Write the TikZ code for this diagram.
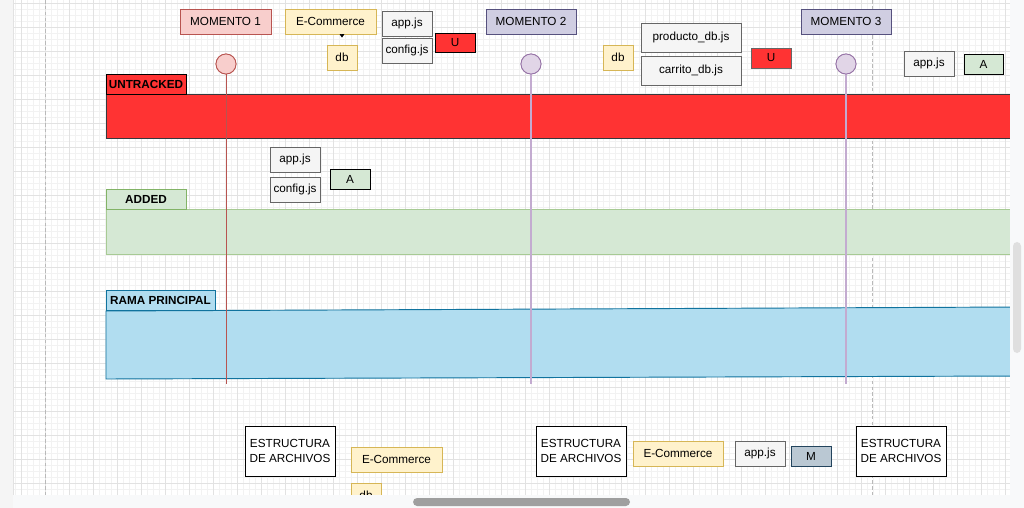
\documentclass[tikz,border=0pt]{standalone}
\usepackage{fontspec}
\setmainfont{Liberation Sans}
\usetikzlibrary{arrows.meta}
\definecolor{pinkfill}{HTML}{F8CECC}
\definecolor{pinkline}{HTML}{B85450}
\definecolor{yelfill}{HTML}{FFF2CC}
\definecolor{yelline}{HTML}{D6B656}
\definecolor{grayfill}{HTML}{F5F5F5}
\definecolor{grayline}{HTML}{666666}
\definecolor{redfill}{HTML}{FF3333}
\definecolor{redline}{HTML}{36393D}
\definecolor{purfill}{HTML}{D0CEE2}
\definecolor{purline}{HTML}{56517E}
\definecolor{lilfill}{HTML}{E1D5E7}
\definecolor{lilline}{HTML}{9673A6}
\definecolor{lilrule}{HTML}{C3ABD0}
\definecolor{greenfill}{HTML}{D5E8D4}
\definecolor{greenline}{HTML}{82B366}
\definecolor{bluefill}{HTML}{B1DDF0}
\definecolor{blueline}{HTML}{10739E}
\definecolor{modfill}{HTML}{BAC8D3}
\definecolor{modline}{HTML}{23445D}
\definecolor{gridmaj}{HTML}{E2E2E2}
\definecolor{gridmin}{HTML}{F2F2F2}
\definecolor{uibar}{HTML}{F8F9FA}

\begin{document}
\begin{tikzpicture}[
    x=0.03cm, y=-0.03cm,
    every node/.style={font=\fontsize{10}{12.5}\selectfont, inner sep=0pt},
    boxsize/.style 2 args={minimum width=#1*0.03cm, minimum height=#2*0.03cm},
    basebox/.style={draw, rectangle, line width=0.7pt},
    momentpink/.style={basebox, fill=pinkfill, draw=pinkline},
    momentpur/.style={basebox, fill=purfill, draw=purline},
    folder/.style={basebox, fill=yelfill, draw=yelline},
    file/.style={basebox, fill=grayfill, draw=grayline},
    untr/.style={basebox, fill=redfill, draw=black},
    addd/.style={basebox, fill=greenfill, draw=black},
    modf/.style={basebox, fill=modfill, draw=modline},
    estruct/.style={basebox, fill=white, draw=black, align=center, boxsize={90}{50}},
    lanelabel/.style={basebox, font=\fontsize{10}{12}\bfseries},
    dot/.style={circle, line width=0.7pt, minimum size=0.6cm},
    gridminor/.style={gridmin, line width=0.4pt},
    gridmajor/.style={gridmaj, line width=0.5pt}
    ]
    \useasboundingbox (0,0) rectangle (1024,508);
    \fill[white] (0,0) rectangle (1024,508);
    \foreach \gx in {15.3,21.3,...,1010} \draw[gridminor] (\gx,0) -- (\gx,495);
    \foreach \gy in {3.3,9.3,...,495} \draw[gridminor] (13,\gy) -- (1010,\gy);
    \foreach \gx in {21.3,45.3,...,1010} \draw[gridmajor] (\gx,0) -- (\gx,495);
    \foreach \gy in {3.3,27.3,...,495} \draw[gridmajor] (13,\gy) -- (1010,\gy);
    \draw[gray!55, dashed, dash pattern=on 3pt off 2pt] (45,0) -- (45,495);
    \draw[gray!55, dashed, dash pattern=on 3pt off 2pt] (872,0) -- (872,495);

    \filldraw[fill=redfill, draw=redline, line width=0.8pt] (106,94) rectangle (1020,138);
    \filldraw[fill=greenfill, draw=greenline!70, line width=0.8pt] (106,209) rectangle (1020,254);
    \filldraw[fill=bluefill, draw=blueline, line width=0.8pt] (106,311) -- (1020,307) -- (1020,376) -- (106,379) -- cycle;
    \node[lanelabel, fill=redfill, draw=black, boxsize={80}{20}] (untracked) at (146,84) {UNTRACKED};
    \node[lanelabel, fill=greenfill, draw=greenline, boxsize={80}{20}] (added) at (146,199) {ADDED};
    \node[lanelabel, fill=bluefill, draw=blueline, boxsize={109}{20}] (rama) at (160.5,300) {RAMA PRINCIPAL};

    \node[dot, fill=pinkfill, draw=pinkline] (c1) at (226,64) {};
    \node[dot, fill=lilfill, draw=lilline] (c2) at (531,64) {};
    \node[dot, fill=lilfill, draw=lilline] (c3) at (846,64) {};
    \coordinate (c1end) at (226,384);
    \coordinate (c2end) at (531,384);
    \coordinate (c3end) at (846,384);
    \draw[pinkline, line width=0.6pt] (c1) -- (c1end);
    \draw[lilrule, line width=1.3pt] (c2) -- (c2end);
    \draw[lilrule, line width=1.3pt] (c3) -- (c3end);
    \node[dot, fill=pinkfill, draw=pinkline] at (c1) {};
    \node[dot, fill=lilfill, draw=lilline] at (c2) {};
    \node[dot, fill=lilfill, draw=lilline] at (c3) {};

    \node[momentpink, boxsize={91}{25}] (m1) at (225.5,21.5) {MOMENTO 1};
    \node[folder, boxsize={91}{25}] (ecom1) at (330.5,21.5) {E-Commerce};
    \node[folder, boxsize={30}{25}] (db1) at (342,57.5) {db};
    \draw[-{Triangle[length=3pt,width=4pt]}, shorten >=0.21cm] (db1.north |- ecom1.south) -- (db1.north);
    \node[file, boxsize={50}{25}] (app1) at (407,23.5) {app.js};
    \node[file, boxsize={50}{25}] (conf1) at (407,50.5) {config.js};
    \node[untr, boxsize={40}{19}] (u1) at (455,42.5) {U};

    \node[momentpur, boxsize={90}{25}] (m2) at (531,21.5) {MOMENTO 2};
    \node[folder, boxsize={30}{25}] (db2) at (618,57.5) {db};
    \node[file, boxsize={100}{29}] (prod) at (691,37.5) {producto\_db.js};
    \node[file, boxsize={100}{29}] (carr) at (691,70.5) {carrito\_db.js};
    \node[untr, draw=grayline, boxsize={40}{20}] (u2) at (771,58) {U};

    \node[momentpur, boxsize={90}{25}] (m3) at (846,21.5) {MOMENTO 3};
    \node[file, boxsize={50}{25}] (app3) at (929,63.5) {app.js};
    \node[addd, boxsize={39}{20}] (a3) at (983.5,64) {A};

    \node[file, boxsize={50}{25}] (app2) at (295,159.5) {app.js};
    \node[file, boxsize={50}{25}] (conf2) at (295,189.5) {config.js};
    \node[addd, boxsize={40}{20}] (a2) at (350,179) {A};

    \node[estruct] (est1) at (290,451) {ESTRUCTURA\\DE ARCHIVOS};
    \node[folder, boxsize={91}{25}] (ecomb1) at (396.5,459.5) {E-Commerce};
    \node[folder, boxsize={30}{25}] (dbb1) at (366,495.5) {db};
    \node[estruct] (est2) at (581,451) {ESTRUCTURA\\DE ARCHIVOS};
    \node[folder, boxsize={90}{25}] (ecomb2) at (678,453.5) {E-Commerce};
    \node[file, boxsize={50}{25}] (appb) at (760,453.5) {app.js};
    \node[modf, boxsize={40}{20}] (mb) at (811,456) {M};
    \node[estruct] (est3) at (901,451) {ESTRUCTURA\\DE ARCHIVOS};

    \fill[grayfill] (0,0) rectangle (13,508);
    \draw[gridmaj] (13,0) -- (13,508);
    \fill[uibar] (13,495) rectangle (1024,508);
    \fill[uibar] (1010,0) rectangle (1024,508);
    \fill[gray!75, rounded corners=3.5] (413,498) rectangle (630,506);
    \fill[gray!25, rounded corners=3.5] (1013,242) rectangle (1021,353);
  \end{tikzpicture}
\end{document}
